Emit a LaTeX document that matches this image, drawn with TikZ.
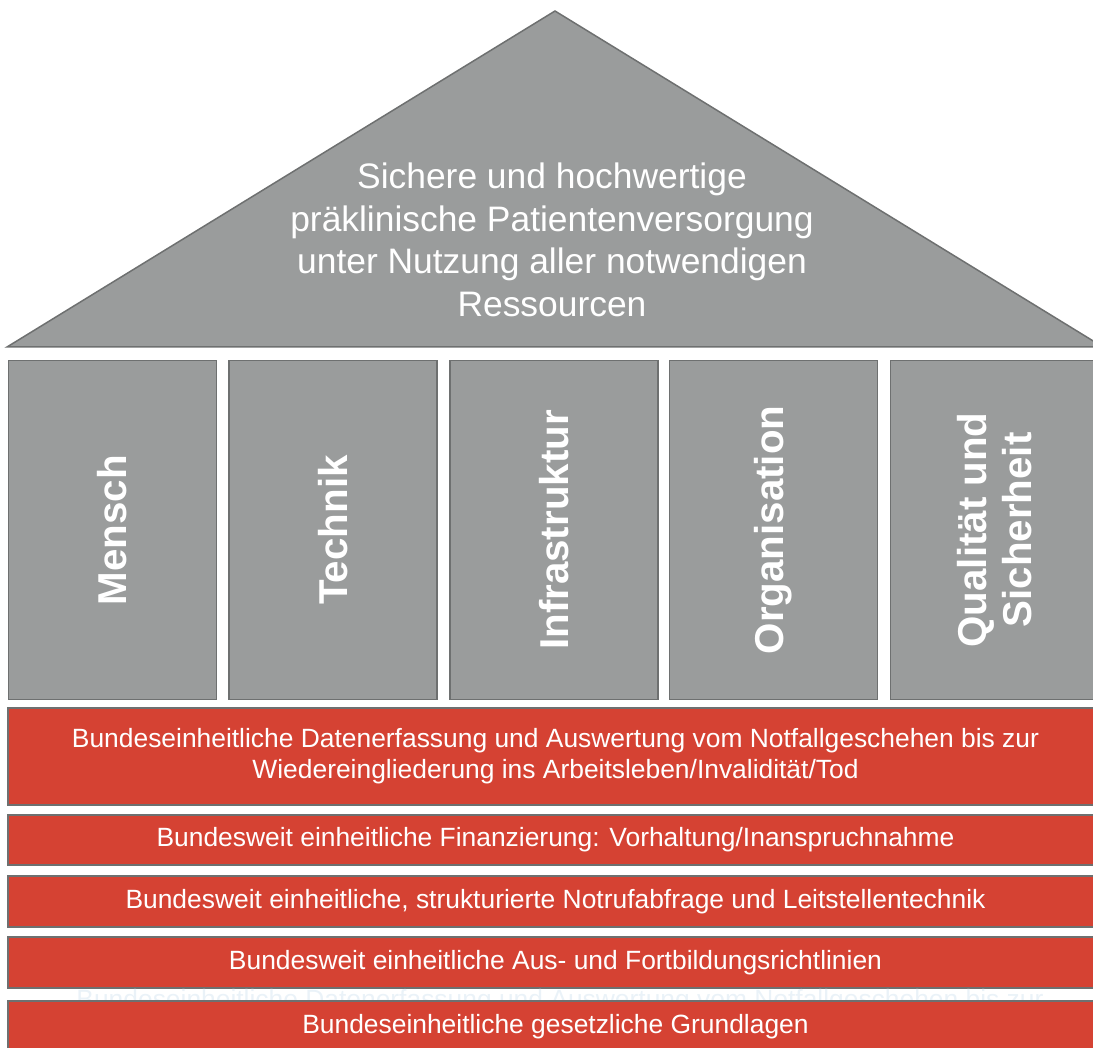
\documentclass[tikz,border=0pt]{standalone}
\usepackage{fontspec}
\setmainfont{Liberation Sans}
\definecolor{housegray}{RGB}{154,156,156}
\definecolor{edgegray}{RGB}{110,112,112}
\definecolor{barred}{RGB}{213,66,51}
\definecolor{ghostblue}{RGB}{234,242,248}
\begin{document}
\begin{tikzpicture}[x=1pt,y=-1pt,
  roof/.style={draw=edgegray,line width=1.5pt,fill=housegray,line join=miter},
  pillar/.style={draw=edgegray,line width=1.5pt,fill=housegray,rotate=90,
    minimum width=339pt,minimum height=208pt,inner sep=0pt,text=white,
    font=\fontsize{40.3}{45}\selectfont\bfseries,align=center},
  bar/.style={draw=edgegray,line width=1.2pt,fill=barred,minimum width=1095pt,
    inner sep=0pt,text=white,font=\fontsize{26.4}{31}\selectfont,align=center}]
\useasboundingbox (0,0) rectangle (1093,1048);
\coordinate (apex) at (555,11);
\coordinate (eaveL) at (7,347);
\coordinate (eaveR) at (1103,347);
\draw[roof] (eaveL) -- (apex) -- (eaveR) -- cycle;
\node[text=white,align=center,font=\fontsize{35.4}{42.5}\selectfont] (goal) at (552,240)
  {Sichere und hochwertige\\pr\"aklinische Patientenversorgung\\unter Nutzung aller notwendigen\\Ressourcen};
% Saeulen
\node[pillar] (mensch) at (112.5,530) {Mensch};
\node[pillar] (technik) at (333,530) {Technik};
\node[pillar] (infra) at (554,530) {Infrastruktur};
\node[pillar] (orga) at (773.5,530) {Organisation};
\node[pillar] (quali) at (994.5,530) {Qualit\"at und\\Sicherheit};
% Fundament
\node[bar,minimum height=97pt] (daten) at (555.5,756.5)
  {Bundeseinheitliche Datenerfassung und Auswertung vom Notfallgeschehen bis zur\\Wiedereingliederung ins Arbeitsleben/Invalidit\"at/Tod};
\node[bar,minimum height=50pt] (finanz) at (555.5,840)
  {Bundesweit einheitliche Finanzierung: Vorhaltung/Inanspruchnahme};
\node[bar,minimum height=51pt] (notruf) at (555.5,901.5)
  {Bundesweit einheitliche, strukturierte Notrufabfrage und Leitstellentechnik};
\node[bar,minimum height=51pt] (bildung) at (555.5,962.5)
  {Bundesweit einheitliche Aus- und Fortbildungsrichtlinien};
\node[text=ghostblue,font=\fontsize{26.4}{31}\selectfont] (ghost) at (560,1002)
  {Bundeseinheitliche Datenerfassung und Auswertung vom Notfallgeschehen bis zur};
\node[bar,minimum height=52pt] (recht) at (555.5,1027)
  {Bundeseinheitliche gesetzliche Grundlagen};
\end{tikzpicture}
\end{document}
